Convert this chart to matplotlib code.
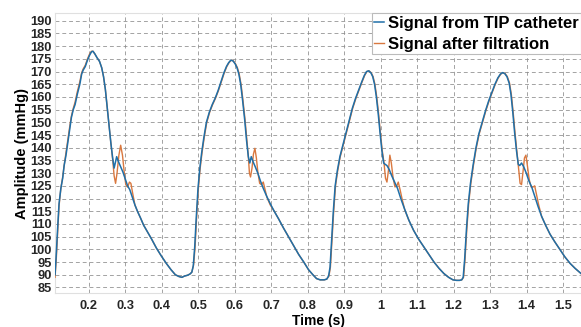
import matplotlib.pyplot as plt
import numpy as np

plt.rcParams['font.family'] = ['Liberation Sans', 'DejaVu Sans']

# TIP catheter signal (time in s, pressure in mmHg)
t_tip = [0.107, 0.110, 0.114, 0.118, 0.123, 0.128, 0.132, 0.137, 0.143, 0.148,
         0.152, 0.157, 0.162, 0.168, 0.175, 0.180, 0.184, 0.190, 0.196, 0.202,
         0.207, 0.211, 0.216, 0.222, 0.229, 0.235, 0.240, 0.245, 0.250, 0.255,
         0.260, 0.265, 0.269, 0.272, 0.276, 0.281, 0.287, 0.293, 0.300, 0.306,
         0.312, 0.319, 0.326, 0.333, 0.341, 0.350, 0.360, 0.372, 0.385, 0.398,
         0.412, 0.425, 0.437, 0.447, 0.455, 0.462, 0.470, 0.477, 0.482, 0.486,
         0.490, 0.494, 0.499, 0.504, 0.509, 0.515, 0.522, 0.530, 0.538, 0.546,
         0.554, 0.562, 0.570, 0.577, 0.583, 0.589, 0.595, 0.601, 0.606, 0.611,
         0.616, 0.621, 0.627, 0.632, 0.637, 0.641, 0.645, 0.650, 0.656, 0.663,
         0.670, 0.678, 0.687, 0.697, 0.708, 0.720, 0.733, 0.747, 0.761, 0.775,
         0.789, 0.802, 0.814, 0.824, 0.834, 0.845, 0.852, 0.857, 0.861, 0.865,
         0.870, 0.875, 0.881, 0.888, 0.896, 0.904, 0.913, 0.922, 0.931, 0.940,
         0.948, 0.955, 0.961, 0.967, 0.973, 0.978, 0.983, 0.988, 0.993, 0.998,
         1.003, 1.008, 1.012, 1.017, 1.023, 1.030, 1.038, 1.046, 1.055, 1.065,
         1.077, 1.090, 1.104, 1.118, 1.132, 1.146, 1.160, 1.173, 1.186, 1.198,
         1.208, 1.216, 1.222, 1.226, 1.230, 1.235, 1.240, 1.246, 1.253, 1.261,
         1.269, 1.278, 1.287, 1.296, 1.305, 1.313, 1.321, 1.328, 1.334, 1.340,
         1.346, 1.352, 1.357, 1.362, 1.367, 1.372, 1.377, 1.381, 1.386, 1.392,
         1.399, 1.406, 1.414, 1.422, 1.431, 1.441, 1.452, 1.464, 1.477, 1.491,
         1.505, 1.519, 1.533, 1.549]
p_tip = [90.0, 97.0, 108.0, 118.0, 124.0, 128.0, 133.0, 137.0, 143.0, 148.0,
         152.0, 155.0, 157.0, 161.0, 165.0, 169.0, 170.5, 172.0, 174.5, 176.5,
         177.8, 178.0, 177.0, 175.5, 174.0, 171.5, 168.0, 163.0, 156.0, 149.0,
         142.0, 136.0, 132.0, 134.0, 136.5, 134.5, 132.5, 130.5, 127.5, 125.0,
         123.5, 120.5, 117.5, 115.0, 112.5, 109.5, 107.0, 104.0, 100.5, 97.5,
         94.5, 92.0, 90.0, 89.3, 89.0, 89.5, 89.8, 90.3, 91.0, 93.5,
         101.0, 112.0, 124.0, 132.0, 138.0, 144.0, 150.0, 154.0, 157.0, 159.5,
         162.5, 166.0, 169.5, 172.0, 173.5, 174.5, 174.2, 173.0, 171.5, 169.0,
         165.0, 159.0, 151.0, 143.0, 136.5, 134.0, 136.5, 134.5, 132.5, 130.0,
         127.0, 124.0, 121.0, 118.0, 115.0, 112.0, 108.5, 105.0, 101.5, 98.0,
         95.0, 92.0, 90.0, 88.5, 88.0, 88.0, 88.3, 89.5, 93.0, 103.0,
         115.0, 125.0, 131.0, 136.5, 141.0, 145.5, 150.5, 155.5, 159.5, 163.0,
         166.0, 168.5, 170.0, 170.3, 169.5, 168.0, 165.0, 160.0, 153.5, 146.0,
         139.0, 134.0, 133.5, 133.0, 131.5, 129.0, 126.5, 124.0, 120.0, 116.0,
         111.5, 107.5, 104.0, 101.0, 98.0, 95.0, 92.5, 90.5, 89.0, 88.0,
         87.8, 87.8, 88.0, 89.0, 96.0, 108.0, 118.0, 126.0, 133.0, 140.0,
         145.5, 150.0, 154.5, 158.5, 162.0, 165.0, 167.5, 169.0, 169.6, 169.2,
         168.0, 165.5, 161.0, 154.0, 146.0, 139.0, 133.5, 133.0, 134.0, 132.5,
         130.0, 127.0, 124.5, 121.0, 117.0, 113.0, 109.5, 106.0, 103.0, 100.0,
         97.0, 94.5, 92.5, 90.5]

# filtered signal: follows the TIP trace, with ringing at the dicrotic notch
t_filt = [0.107, 0.110, 0.114, 0.118, 0.123, 0.128, 0.132, 0.137, 0.143, 0.148,
          0.152, 0.157, 0.162, 0.168, 0.175, 0.180, 0.184, 0.190, 0.196, 0.202,
          0.207, 0.211, 0.216, 0.222, 0.229, 0.235, 0.240, 0.245, 0.250, 0.255,
          0.260, 0.265, 0.269, 0.273, 0.277, 0.282, 0.287, 0.292, 0.297, 0.301,
          0.306, 0.311, 0.315, 0.320, 0.326, 0.333, 0.341, 0.350, 0.360, 0.372,
          0.385, 0.398, 0.412, 0.425, 0.437, 0.447, 0.455, 0.462, 0.470, 0.477,
          0.482, 0.487, 0.491, 0.495, 0.500, 0.505, 0.510, 0.516, 0.523, 0.531,
          0.539, 0.547, 0.555, 0.563, 0.571, 0.578, 0.584, 0.590, 0.596, 0.602,
          0.607, 0.612, 0.617, 0.622, 0.628, 0.633, 0.637, 0.640, 0.643, 0.647,
          0.651, 0.655, 0.659, 0.663, 0.668, 0.673, 0.678, 0.682, 0.688, 0.697,
          0.708, 0.720, 0.733, 0.747, 0.761, 0.775, 0.789, 0.802, 0.814, 0.824,
          0.834, 0.845, 0.852, 0.858, 0.862, 0.866, 0.871, 0.876, 0.882, 0.889,
          0.897, 0.905, 0.914, 0.923, 0.932, 0.941, 0.949, 0.956, 0.962, 0.968,
          0.974, 0.979, 0.984, 0.989, 0.994, 0.999, 1.004, 1.009, 1.013, 1.017,
          1.021, 1.025, 1.029, 1.034, 1.039, 1.044, 1.048, 1.053, 1.059, 1.066,
          1.077, 1.090, 1.104, 1.118, 1.132, 1.146, 1.160, 1.173, 1.186, 1.198,
          1.208, 1.216, 1.222, 1.227, 1.231, 1.236, 1.241, 1.247, 1.254, 1.262,
          1.270, 1.279, 1.288, 1.297, 1.306, 1.314, 1.322, 1.329, 1.335, 1.341,
          1.347, 1.353, 1.358, 1.363, 1.368, 1.373, 1.378, 1.382, 1.386, 1.390,
          1.394, 1.398, 1.402, 1.407, 1.412, 1.417, 1.422, 1.427, 1.433, 1.441,
          1.452, 1.464, 1.477, 1.491, 1.505, 1.519, 1.533, 1.549]
p_filt = [89.0, 95.0, 106.0, 117.0, 124.0, 128.5, 133.0, 138.0, 144.0, 149.0,
          152.5, 155.5, 158.0, 162.0, 166.0, 169.5, 171.0, 172.5, 175.0, 177.0,
          178.0, 178.0, 177.0, 175.5, 174.0, 171.5, 168.0, 163.0, 156.0, 149.0,
          142.0, 135.5, 129.0, 126.0, 130.0, 137.0, 141.0, 137.0, 130.0, 125.5,
          124.5, 126.5, 126.0, 122.0, 117.5, 115.0, 112.5, 109.5, 107.0, 104.0,
          100.5, 97.5, 94.5, 92.0, 90.0, 89.3, 89.0, 89.5, 89.8, 90.3,
          91.0, 94.0, 101.0, 112.0, 124.0, 132.0, 138.0, 144.0, 150.0, 154.0,
          157.0, 159.5, 162.5, 166.0, 169.5, 172.0, 173.5, 174.5, 174.2, 173.0,
          171.5, 169.0, 165.0, 159.0, 151.0, 143.0, 136.5, 130.0, 128.5, 132.0,
          137.5, 139.8, 136.0, 130.5, 126.0, 125.5, 126.5, 124.0, 120.5, 117.5,
          115.0, 112.0, 108.5, 105.0, 101.5, 98.0, 95.0, 92.0, 90.0, 88.5,
          88.0, 88.0, 88.3, 89.5, 93.0, 103.0, 115.0, 125.0, 131.0, 136.5,
          141.0, 145.5, 150.5, 155.5, 159.5, 163.0, 166.0, 168.5, 170.0, 170.3,
          169.5, 168.0, 165.0, 160.0, 153.5, 146.0, 139.0, 134.0, 128.0, 126.5,
          131.0, 137.1, 134.0, 128.0, 124.6, 125.0, 126.5, 123.5, 119.5, 115.5,
          111.5, 107.5, 104.0, 101.0, 98.0, 95.0, 92.5, 90.5, 89.0, 88.0,
          87.8, 87.8, 88.0, 89.0, 96.0, 108.0, 118.0, 126.0, 133.0, 140.0,
          145.5, 150.0, 154.5, 158.5, 162.0, 165.0, 167.5, 169.0, 169.6, 169.2,
          168.0, 165.5, 161.0, 154.0, 146.0, 139.0, 132.0, 126.0, 125.5, 130.5,
          136.0, 137.1, 133.0, 127.5, 124.6, 124.5, 125.0, 121.5, 117.5, 113.0,
          109.5, 106.0, 103.0, 100.0, 97.0, 94.5, 92.5, 90.5]

x_ticks = [0.2, 0.3, 0.4, 0.5, 0.6, 0.7, 0.8, 0.9, 1.0, 1.1, 1.2, 1.3, 1.4, 1.5]
y_ticks = list(range(85, 191, 5))

fig = plt.figure(figsize=(5.81, 3.27), dpi=100)
ax = fig.add_axes([0.0947, 0.103, 0.9053, 0.856])

ax.plot(t_filt, p_filt, color='#D9783F', lw=1.0, zorder=3,
        label='Signal after filtration')
ax.plot(t_tip, p_tip, color='#1F6FA8', lw=1.1, zorder=4,
        label='Signal from TIP catheter')

ax.set_xlim(0.107, 1.549)
ax.set_ylim(82.7, 192.9)
ax.set_xticks(x_ticks)
ax.set_xticklabels(['%g' % v for v in x_ticks])
ax.set_yticks(y_ticks)
ax.tick_params(length=0, labelsize=9.3)
ax.tick_params(axis='y', pad=2.5)
ax.tick_params(axis='x', pad=5)
for lab in ax.get_xticklabels() + ax.get_yticklabels():
    lab.set_fontweight('bold')
    lab.set_color('#262626')

ax.grid(True, color='#8c8c8c', linestyle=(0, (4, 3)), linewidth=0.7, alpha=0.8)
for s in ax.spines.values():
    s.set_color('#e0e0e0')

ax.set_xlabel('Time (s)', fontsize=10, fontweight='bold', labelpad=1)
ax.set_ylabel('Amplitude (mmHg)', fontsize=10.5, fontweight='bold', labelpad=1)

handles, labels = ax.get_legend_handles_labels()
leg = ax.legend(handles[::-1], labels[::-1], loc='upper right',
                bbox_to_anchor=(1.0, 1.0),
                prop={'weight': 'bold', 'size': 12}, handlelength=0.6,
                handletextpad=0.2, borderpad=0.15, labelspacing=0.35,
                borderaxespad=0.0, fancybox=False, framealpha=1.0)
leg.get_frame().set_edgecolor('#bbbbbb')
leg.get_frame().set_linewidth(0.8)

fig.savefig('out.png', dpi=100)
